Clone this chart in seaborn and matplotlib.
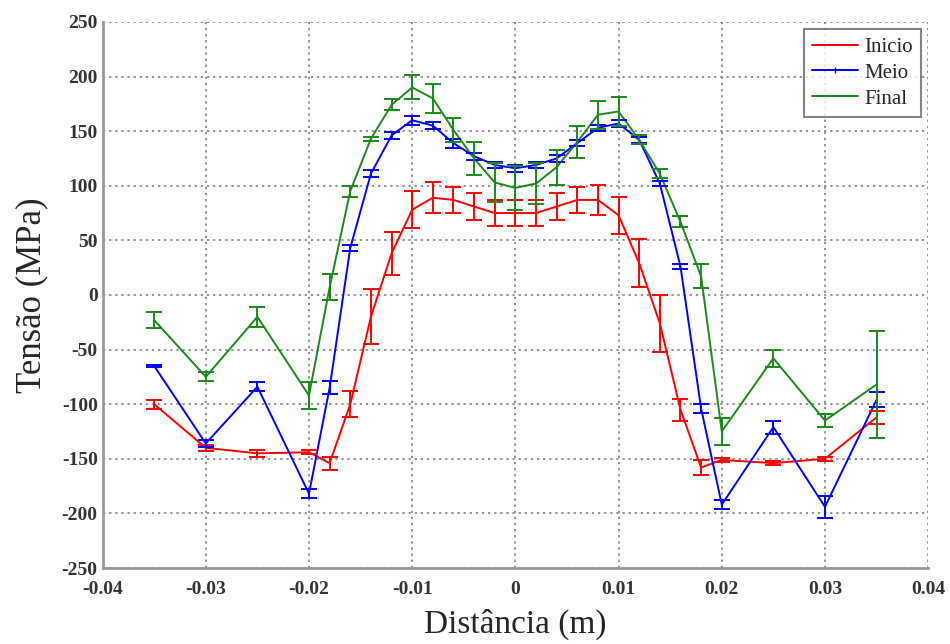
import matplotlib
matplotlib.use("Agg")
import matplotlib.pyplot as plt
import numpy as np
import pandas as pd
import seaborn as sns
from matplotlib.ticker import MultipleLocator

# Data
distancia = [-0.035, -0.03, -0.025, -0.02, -0.018, -0.016, -0.014, -0.012, -0.01,
             -0.008, -0.006, -0.004, -0.002, 0.0, 0.002, 0.004, 0.006, 0.008,
             0.01, 0.012, 0.014, 0.016, 0.018, 0.02, 0.025, 0.03, 0.035]

inicio = [-100, -140, -145, -144, -154, -100, -20, 38, 78, 89, 87, 81, 75, 75,
          75, 81, 87, 87, 73, 29, -26, -105, -158, -151, -154, -150, -112]
inicio_err = [4, 3, 3, 2, 6, 12, 25, 20, 17, 14, 12, 12, 12, 12,
              12, 12, 12, 14, 17, 22, 26, 10, 7, 2, 2, 2, 6]

meio = [-65, -136, -84, -182, -85, 43, 111, 146, 160, 155, 139, 127, 119, 116,
        119, 125, 139, 153, 157, 142, 102, 26, -104, -192, -121, -194, -96]
meio_err = [1, 3, 4, 4, 6, 3, 3, 3, 4, 3, 4, 3, 3, 3,
            3, 3, 3, 3, 3, 3, 2, 2, 4, 4, 6, 10, 7]

final = [-23, -75, -20, -92, 7, 95, 143, 174, 190, 180, 151, 125, 103, 98,
         102, 117, 140, 165, 168, 142, 111, 67, 17, -125, -58, -115, -82]
final_err = [7, 4, 9, 12, 12, 5, 2, 5, 11, 13, 11, 15, 18, 20,
             19, 16, 15, 13, 13, 4, 4, 5, 11, 12, 8, 6, 49]

series = ["Inicio", "Meio", "Final"]
colors = {"Inicio": "#ff0000", "Meio": "#0000ff", "Final": "#1a8a1a"}

df = pd.DataFrame({
    "x": distancia * 3,
    "y": inicio + meio + final,
    "err": inicio_err + meio_err + final_err,
    "serie": ["Inicio"] * len(distancia) + ["Meio"] * len(distancia) + ["Final"] * len(distancia),
})

sns.set_style("white")
plt.rcParams["font.family"] = ["Liberation Serif", "DejaVu Serif"]
plt.rcParams["axes.unicode_minus"] = False

fig = plt.figure(figsize=(9.5, 6.44), dpi=100)
ax = fig.add_axes([0.108, 0.118, 0.869, 0.848])

sns.lineplot(data=df, x="x", y="y", hue="serie", hue_order=series, palette=colors,
             linewidth=1.4, ax=ax, legend=False, estimator=None, sort=False)
for s in series:
    d = df[df["serie"] == s]
    ax.errorbar(d["x"], d["y"], yerr=d["err"], fmt="none", ecolor=colors[s],
                elinewidth=1.4, capsize=6, capthick=1.4)
    ax.plot([], [], color=colors[s], linewidth=1.4,
            marker="|" if s == "Meio" else None, markersize=5, label=s)

ax.set_xlim(-0.04, 0.04)
ax.set_ylim(-250, 250)
ax.xaxis.set_minor_locator(MultipleLocator(0.002))
ax.yaxis.set_major_locator(MultipleLocator(50))
ax.yaxis.set_minor_locator(MultipleLocator(25))
ax.set_xticks(np.arange(-0.04, 0.041, 0.01))
ax.set_xticklabels(["-0.04", "-0.03", "-0.02", "-0.01", "0", "0.01", "0.02", "0.03", "0.04"])

ax.grid(True, which="major", linestyle=(0, (1.5, 2.5)), color="#777777", linewidth=1.1)
ax.tick_params(which="both", direction="in", colors="#888888", labelcolor="#333333",
               labelsize=14)
ax.tick_params(which="major", length=6)
ax.tick_params(which="minor", length=4)
ax.tick_params(axis="x", pad=9)
for lbl in ax.get_xticklabels() + ax.get_yticklabels():
    lbl.set_fontweight("bold")

for sp in ["top", "right"]:
    ax.spines[sp].set_visible(False)
for sp in ["left", "bottom"]:
    ax.spines[sp].set_color("#999999")
    ax.spines[sp].set_linewidth(2)

ax.set_xlabel("Distância (m)", fontsize=24, labelpad=8)
ax.set_ylabel("Tensão (MPa)", fontsize=25, labelpad=10)

leg = ax.legend(loc="upper right", bbox_to_anchor=(1.004, 1.006), fontsize=15,
                frameon=True, fancybox=False, handlelength=2.2, borderpad=0.4,
                labelspacing=0.3, handletextpad=0.3)
leg.get_frame().set_edgecolor("#666666")
leg.get_frame().set_linewidth(1.5)

fig.savefig("out.png", dpi=100)
